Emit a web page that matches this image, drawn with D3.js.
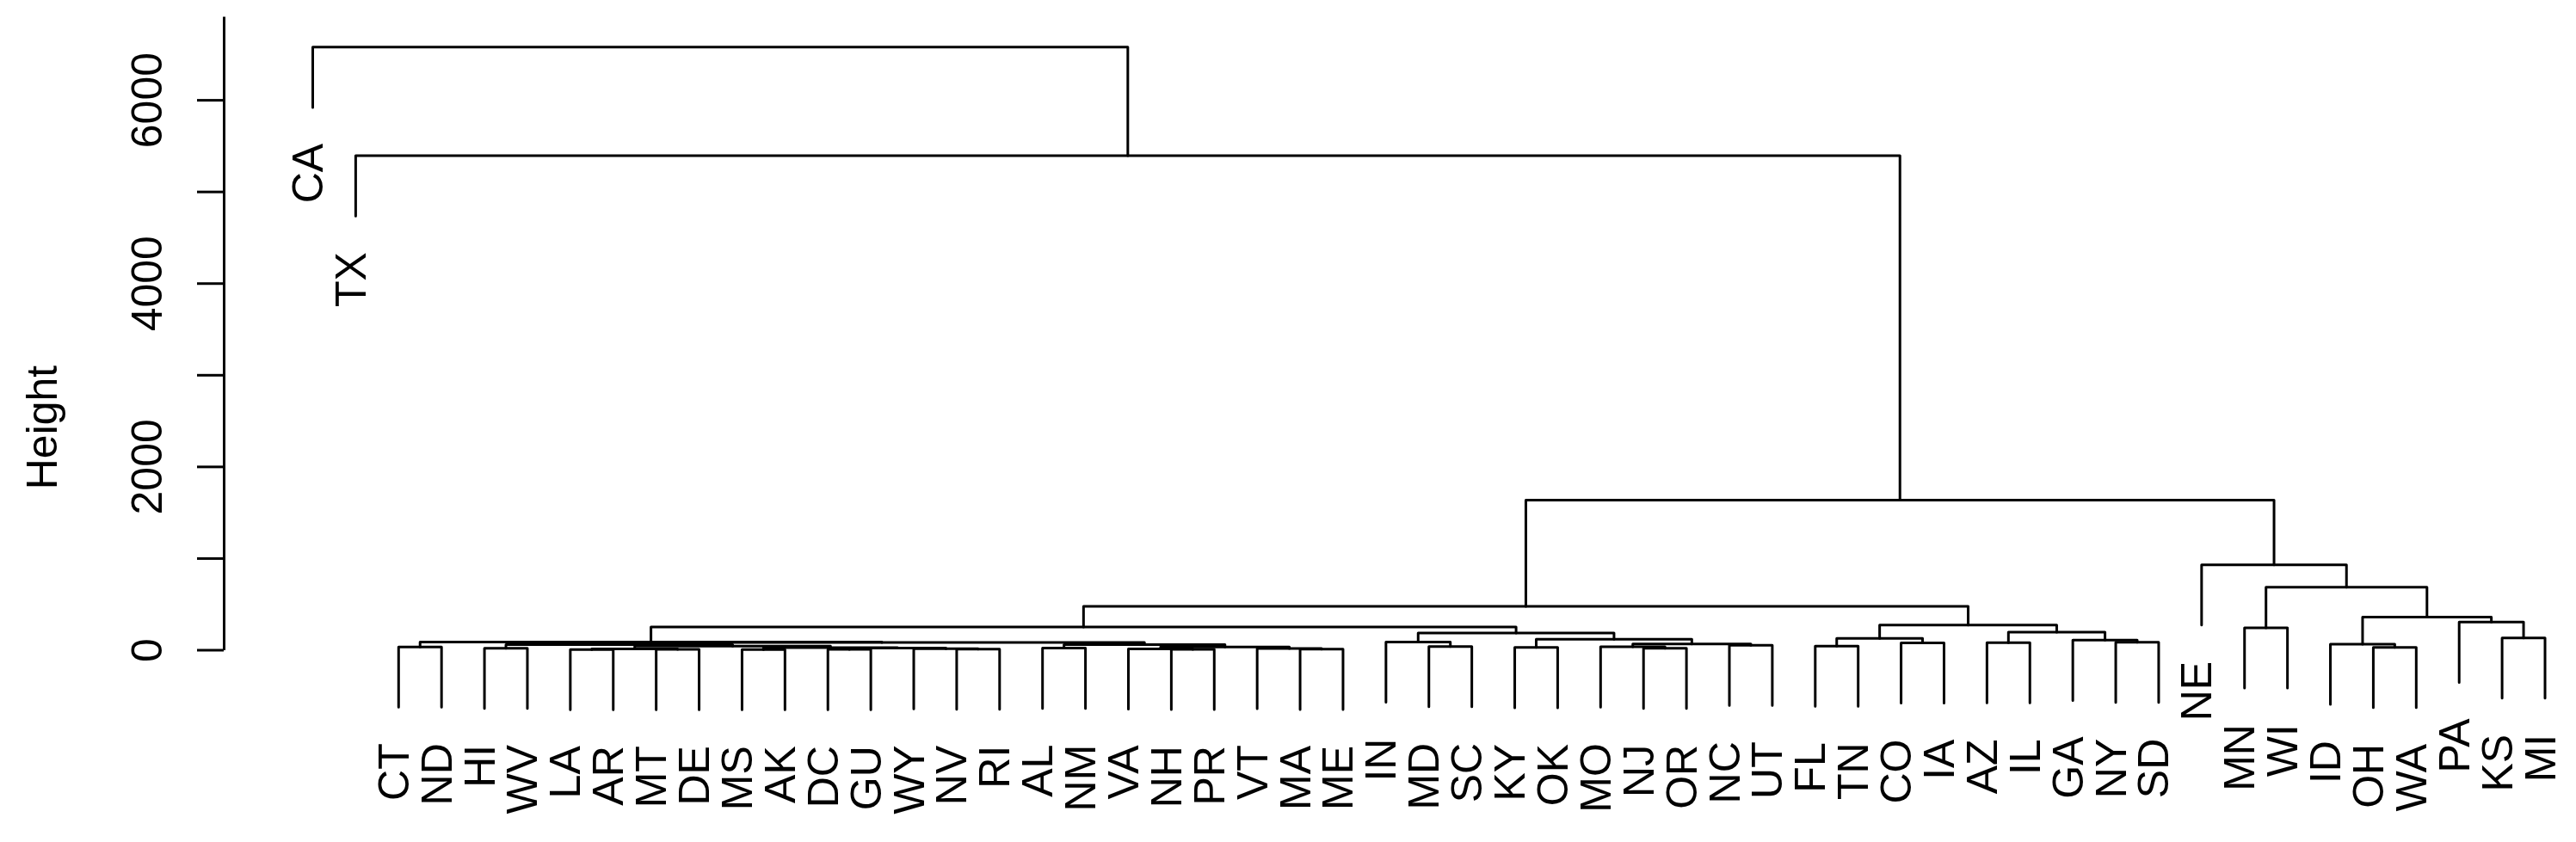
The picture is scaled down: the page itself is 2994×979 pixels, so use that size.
<!DOCTYPE html>
<html>
<head>
<meta charset="utf-8">
<script src="https://cdn.jsdelivr.net/npm/d3@7"></script>
<style>
  html, body { margin: 0; padding: 0; background: #ffffff; }
  svg { display: block; }
</style>
</head>
<body>
<svg id="chart" width="2994" height="979"></svg>
<script>
// ---------------- DATA ----------------
// leaves in display order (left to right)
const leafLabels = ["CA","TX","CT","ND","HI","WV","LA","AR","MT","DE","MS","AK","DC","GU","WY","NV","RI",
  "AL","NM","VA","NH","PR","VT","MA","ME","IN","MD","SC","KY","OK","MO","NJ","OR","NC","UT",
  "FL","TN","CO","IA","AZ","IL","GA","NY","SD","NE","MN","WI","ID","OH","WA","PA","KS","MI"];

// hclust-style merge table: negative = leaf (position in leafLabels, 1-based), positive = earlier merge row
const merges = [
  [-7,-8],[-11,-12],[-9,-10],[-13,-14],[-21,-22],[-24,-25],[-16,-17],[1,3],[-20,5],[-15,7],
  [-23,6],[-5,-6],[-32,-33],[-18,-19],[4,10],[2,15],[-29,-30],[-49,-50],[9,11],[-3,-4],
  [-31,13],[-27,-28],[-36,-37],[8,16],[-34,-35],[12,24],[14,19],[-48,18],[21,25],[-38,-39],
  [-40,-41],[26,27],[-43,-44],[20,32],[-26,22],[-42,33],[17,29],[23,30],[-52,-53],[35,37],
  [31,36],[-46,-47],[34,40],[38,41],[-51,39],[28,45],[43,44],[42,46],[-45,48],[47,49],
  [-2,50],[-1,51]
];
const mergeHeights = [
  3,3,4,4,5,6,8,10,10,12,
  14,16,16,18,18,24,25,26,30,31,
  32,35,40,40,50,56,56,61,63,75,
  77,80,83,85,84,105,114,124,129,183,
  192,239,249,270,302,356,474,683,927,1632,
  5390,6575
];

const yTickValues = [0,1000,2000,3000,4000,5000,6000];
const yTickLabels = ["0","","2000","","4000","","6000"];
const yAxisTitle = "Height";
const hangFraction = 0.1;

// ---------------- LAYOUT ----------------
const FONT = "'Liberation Sans', Arial, Helvetica, sans-serif";
const FS = 50;
const LW = 3;

const svg = d3.select("#chart");
svg.append("rect").attr("width", 2994).attr("height", 979).attr("fill", "#fff");

const x = d3.scaleLinear().domain([1, leafLabels.length]).range([363.5, 2958]);
const y = d3.scaleLinear().domain([0, 6000]).range([755.5, 116.1]);
const axisX = 260;
const axisTopPx = 19;

const hang = hangFraction * d3.max(mergeHeights);

// positions
const nodeX = new Array(merges.length);
function posX(id) {
  if (id < 0) return x(-id);
  return nodeX[id - 1];
}
merges.forEach((m, i) => {
  nodeX[i] = (posX(m[0]) + posX(m[1])) / 2;
});
function childH(id, parentH) {
  if (id < 0) return parentH - hang;
  return mergeHeights[id - 1];
}

// tree segments
const g = svg.append("g");
const segs = merges.map((m, i) => {
  const h = mergeHeights[i];
  const xl = posX(m[0]), xr = posX(m[1]);
  const hl = childH(m[0], h), hr = childH(m[1], h);
  return `M${xl},${y(hl)}V${y(h)}H${xr}V${y(hr)}`;
});
g.selectAll("path.seg").data(segs).join("path")
  .attr("class", "seg")
  .attr("d", d => d)
  .attr("fill", "none")
  .attr("stroke", "#000")
  .attr("stroke-width", LW)
  .attr("stroke-linecap", "round")
  .attr("stroke-linejoin", "round");

// leaf labels
const leafEnd = new Array(leafLabels.length);
merges.forEach((m, i) => {
  m.forEach(id => { if (id < 0) leafEnd[-id - 1] = mergeHeights[i] - hang; });
});
svg.append("g").selectAll("text").data(leafLabels).join("text")
  .attr("transform", (d, i) => `translate(${x(i + 1) + 0.23 * FS},${y(leafEnd[i]) + 42}) rotate(-90)`)
  .attr("text-anchor", "end")
  .attr("font-family", FONT)
  .attr("font-size", FS)
  .attr("fill", "#000")
  .text(d => d);

// y axis
const yAxisScale = d3.scaleLinear().domain([0, y.invert(axisTopPx)]).range([y(0), axisTopPx]);
const axisG = svg.append("g").attr("transform", `translate(${axisX},0)`)
  .call(d3.axisLeft(yAxisScale).tickValues(yTickValues).tickSizeInner(31).tickSizeOuter(0)
    .tickFormat((d, i) => yTickLabels[i]));
axisG.select(".domain").attr("stroke", "#000").attr("stroke-width", LW);
axisG.selectAll(".tick line").attr("stroke", "#000").attr("stroke-width", LW);
axisG.selectAll(".tick text")
  .attr("x", null).attr("dy", null)
  .attr("transform", "translate(-72,0) rotate(-90)")
  .attr("text-anchor", "middle")
  .attr("font-family", FONT)
  .attr("font-size", FS)
  .attr("fill", "#000");

// axis title
svg.append("text")
  .attr("transform", `translate(66,497) rotate(-90)`)
  .attr("text-anchor", "middle")
  .attr("font-family", FONT)
  .attr("font-size", FS)
  .attr("fill", "#000")
  .text(yAxisTitle);
</script>
</body>
</html>
